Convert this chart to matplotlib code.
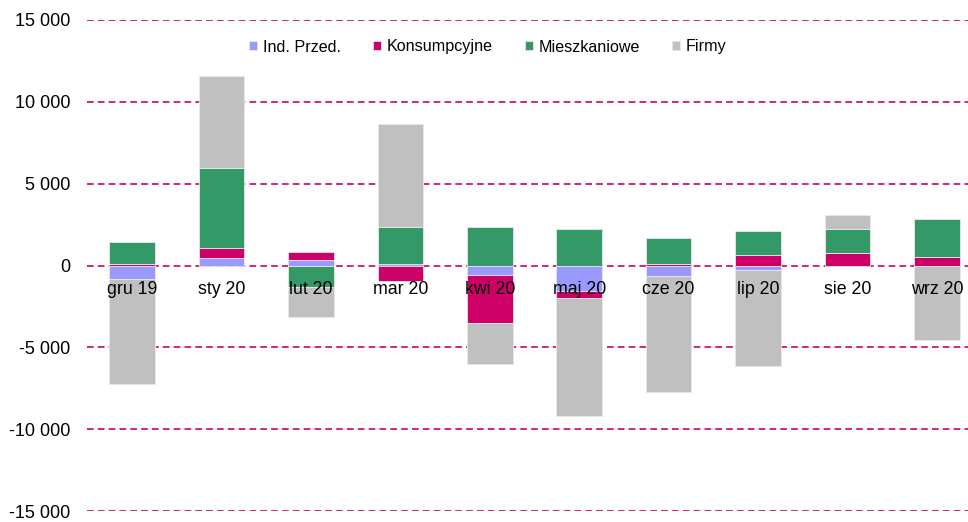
import matplotlib.pyplot as plt
import numpy as np
from matplotlib.ticker import FuncFormatter

plt.rcParams['font.family'] = ['Liberation Sans', 'DejaVu Sans']

months = ['gru 19', 'sty 20', 'lut 20', 'mar 20', 'kwi 20',
          'maj 20', 'cze 20', 'lip 20', 'sie 20', 'wrz 20']

ind_przed = [-815, 470, 350, 100, -570, -1530, -670, -305, 0, 0]
konsump = [100, 610, 490, -960, -2915, -470, 80, 650, 750, 510]
mieszk = [1350, 4870, -1300, 2240, 2345, 2220, 1590, 1450, 1450, 2320]
firmy = [-6400, 5600, -1830, 6290, -2530, -7170, -7050, -5830, 875, -4560]

series = [('Ind. Przed.', ind_przed, '#9999FF'),
          ('Konsumpcyjne', konsump, '#CC0066'),
          ('Mieszkaniowe', mieszk, '#339966'),
          ('Firmy', firmy, '#C0C0C0')]

yticks = np.arange(-15000, 15001, 5000)

fig = plt.figure(figsize=(9.68, 5.22), dpi=100)
fig.patch.set_facecolor('white')
ax = fig.add_axes([87.3 / 968, 11 / 522, 894.4 / 968, 491 / 522])

# dashed gridlines behind the bars
for yv in yticks:
    ax.axhline(yv, color='#CC0066', linestyle=(0, (4, 2.5)), linewidth=1.2, zorder=1)

x = np.arange(len(months))
pos_base = np.zeros(len(months))
neg_base = np.zeros(len(months))
for name, vals, col in series:
    v = np.array(vals, dtype=float)
    base = np.where(v >= 0, pos_base, neg_base)
    ax.bar(x, v, 0.51, bottom=base, color=col, edgecolor='#E8E8E8',
           linewidth=0.6, label=name, zorder=2)
    pos_base += np.where(v >= 0, v, 0)
    neg_base += np.where(v < 0, v, 0)

ax.set_xlim(-0.5, len(months) - 0.5)
ax.set_ylim(-15000, 15000)
ax.set_yticks(yticks)
ax.yaxis.set_major_formatter(FuncFormatter(lambda v, p: f'{int(v):,}'.replace(',', ' ')))
ax.set_axisbelow(False)

for s in ['top', 'right', 'left']:
    ax.spines[s].set_visible(False)
ax.spines['bottom'].set_position(('data', 0))
ax.spines['bottom'].set_visible(False)

# month labels sit just under the zero line, in front of the bars
ax.set_xticks(x)
ax.set_xticklabels(months)
ax.tick_params(axis='x', length=0, pad=11, labelsize=12.8)
ax.tick_params(axis='y', length=0, pad=12, labelsize=13)

fig.legend(loc='center', bbox_to_anchor=(488 / 968, 1 - 47 / 522), ncol=4,
           frameon=False, fontsize=11.6, handlelength=0.5, handleheight=0.5,
           handletextpad=0.35, columnspacing=2.0)

plt.savefig('out.png', dpi=100, facecolor='white')
